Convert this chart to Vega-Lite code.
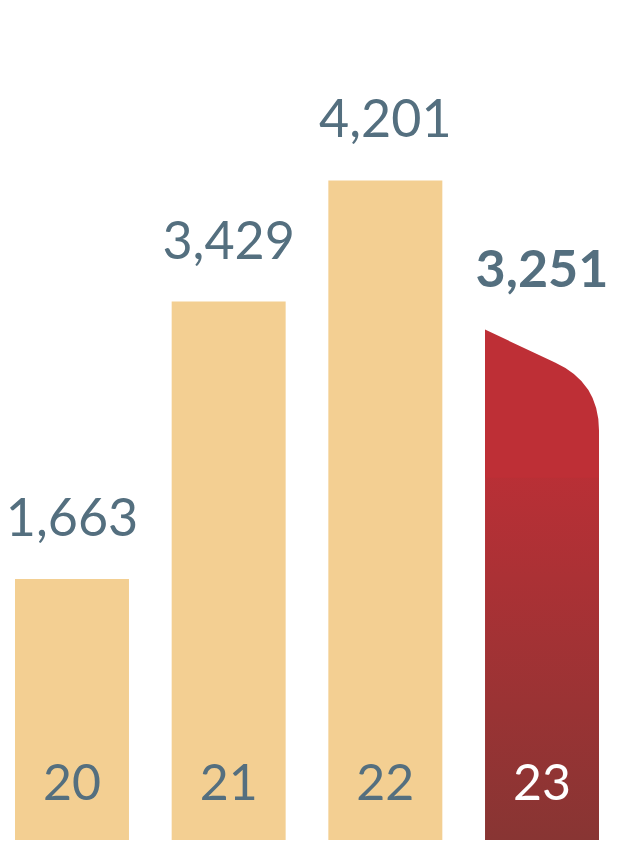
{
  "$schema": "https://vega.github.io/schema/vega-lite/v6.json",
  "width": 640,
  "height": 840,
  "autosize": {"type": "none"},
  "padding": 0,
  "background": "white",
  "config": {"view": {"stroke": null}},
  "data": {"values": [
    {"year": "20", "value": 1663},
    {"year": "21", "value": 3429},
    {"year": "22", "value": 4201},
    {"year": "23", "value": 3251}
  ]},
  "encoding": {
    "x": {"field": "year", "type": "nominal", "axis": null, "scale": {"range": [15, 599], "paddingInner": 0.2725, "paddingOuter": 0}},
    "y": {"field": "value", "type": "quantitative", "axis": null, "scale": {"domain": [0, 5350], "nice": false, "zero": true}}
  },
  "layer": [
    {
      "transform": [{"filter": "datum.year != '23'"}],
      "mark": {"type": "bar", "color": "#F3CF92"}
    },
    {
      "transform": [{"filter": "datum.year == '23'"}],
      "mark": {"type": "bar", "yOffset": 115, "color": {"gradient": "linear", "x1": 0, "y1": 0, "x2": 0, "y2": 1, "stops": [{"offset": 0, "color": "#BD2F36"}, {"offset": 0.775, "color": "#883533"}, {"offset": 1, "color": "#883533"}]}}
    },
    {
      "transform": [{"filter": "datum.year == '23'"}],
      "mark": {"type": "point", "filled": true, "opacity": 1, "strokeWidth": 0, "size": 12996, "color": "#BE2F36", "shape": "M -1 0 L 0.228 0.579 Q 1 0.93 1 1.772 L 1 2.6 L -1 2.6 Z"}
    },
    {
      "transform": [{"filter": "datum.year != '23'"}],
      "mark": {"type": "text", "font": "Lato", "fontSize": 52, "fontWeight": "normal", "color": "#546F7F", "baseline": "alphabetic", "dy": -43},
      "encoding": {"text": {"field": "value", "type": "quantitative", "format": ","}}
    },
    {
      "transform": [{"filter": "datum.year == '23'"}],
      "mark": {"type": "text", "font": "Lato", "fontSize": 52, "fontWeight": "bold", "color": "#546F7F", "baseline": "alphabetic", "dy": -43},
      "encoding": {"text": {"field": "value", "type": "quantitative", "format": ","}}
    },
    {
      "mark": {"type": "text", "font": "Lato", "fontSize": 50, "baseline": "alphabetic", "dy": -40},
      "encoding": {
        "y": {"datum": 0, "type": "quantitative"},
        "text": {"field": "year", "type": "nominal"},
        "color": {"condition": {"test": "datum.year == '23'", "value": "#FFFFFF"}, "value": "#546F7F"}
      }
    }
  ]
}
